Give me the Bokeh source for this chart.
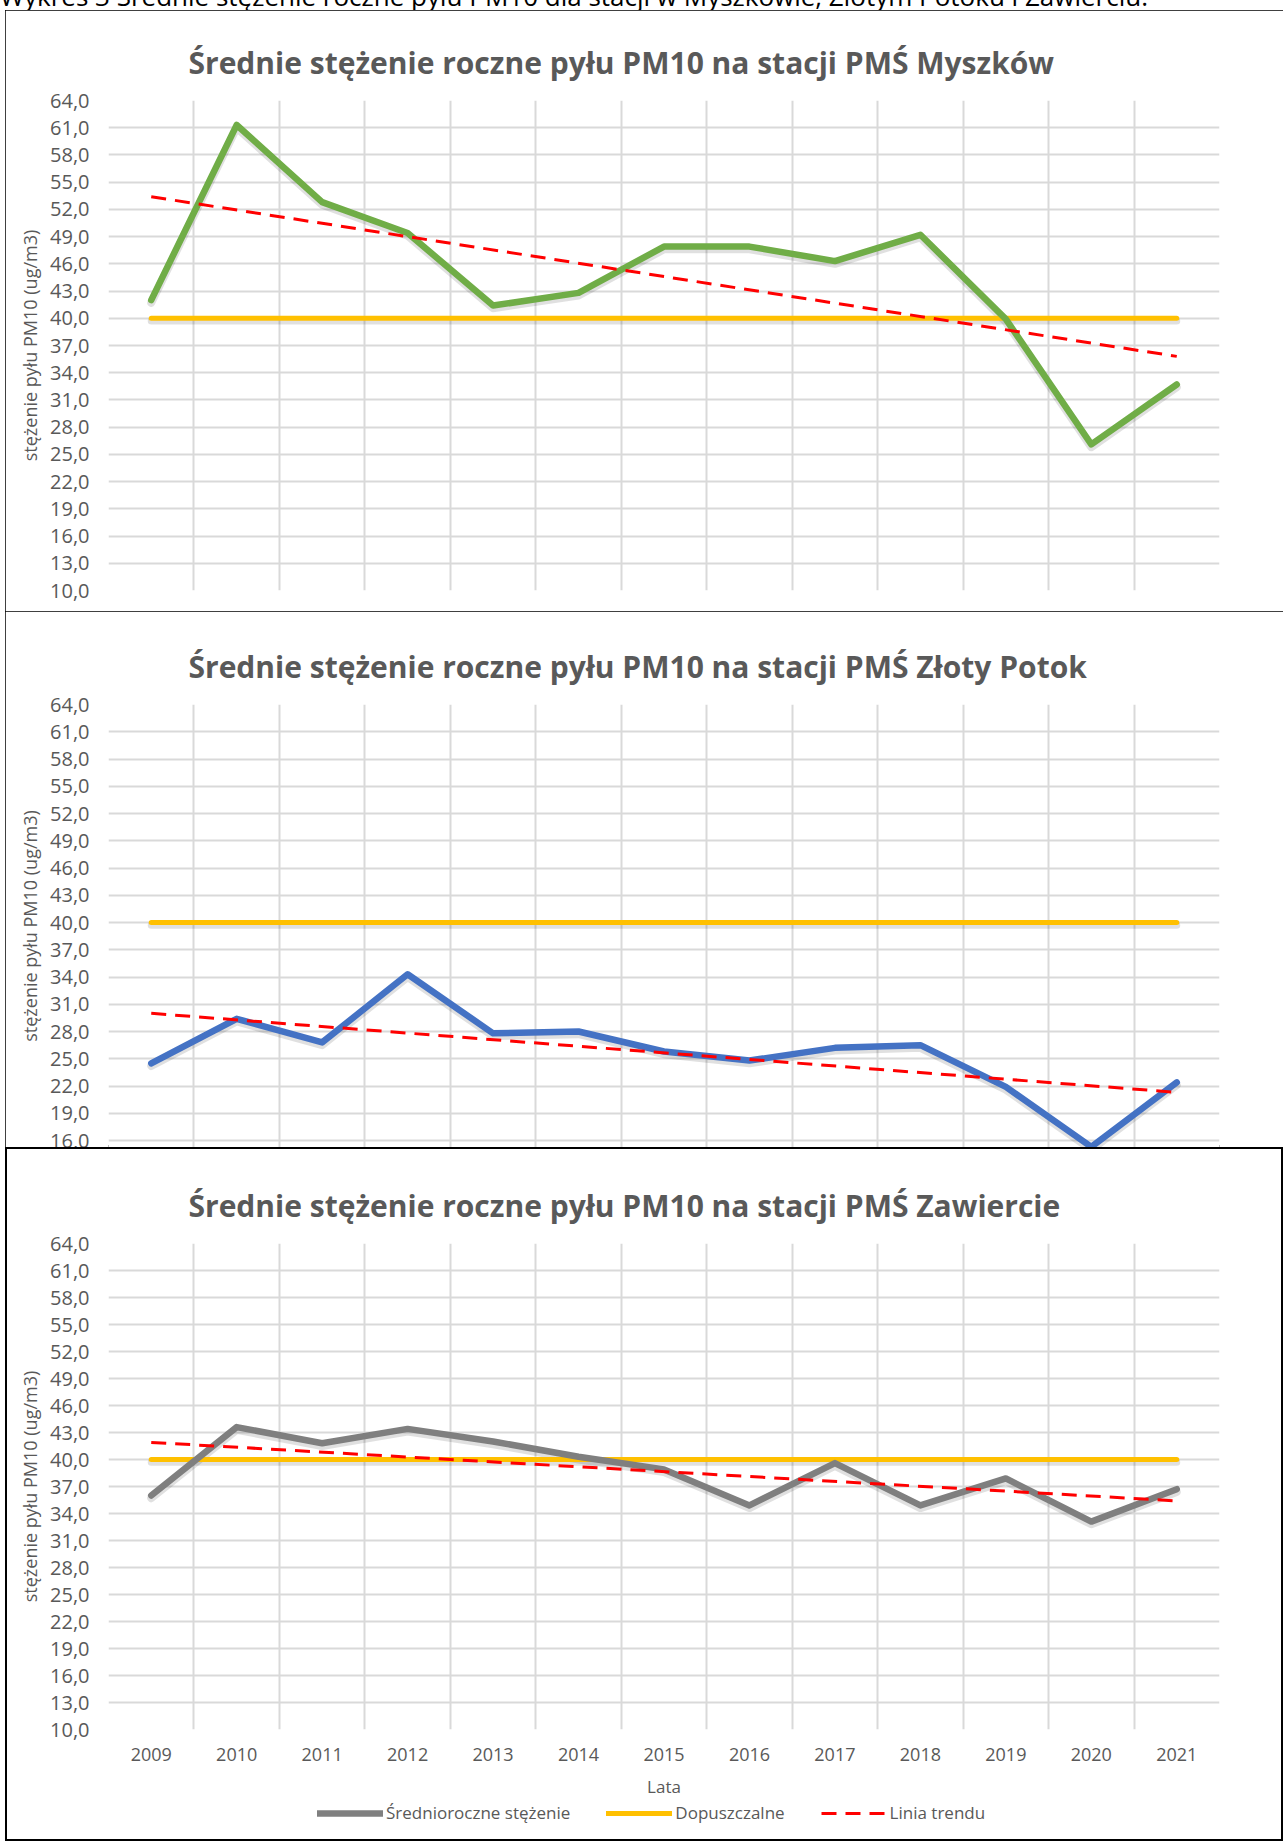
from bokeh.plotting import figure
from bokeh.layouts import column
from bokeh.models import (Range1d, FixedTicker, CustomJSTickFormatter, Legend,
                          LegendItem, ColumnDataSource, Title, Div)
from bokeh.transform import dodge
from bokeh.embed import file_html
from bokeh.resources import INLINE

# ---------------- data ----------------
years = [2009, 2010, 2011, 2012, 2013, 2014, 2015, 2016, 2017, 2018, 2019, 2020, 2021]
myszkow = [42.0, 61.3, 52.8, 49.4, 41.4, 42.8, 47.9, 47.9, 46.3, 49.2, 39.9, 26.1, 32.7]
zloty_potok = [24.5, 29.4, 26.8, 34.3, 27.8, 28.0, 25.8, 24.8, 26.2, 26.5, 21.9, 15.3, 22.4]
zawiercie = [36.0, 43.6, 41.8, 43.4, 42.0, 40.3, 38.9, 34.9, 39.6, 34.9, 37.9, 33.1, 36.7]
limit = [40.0, 40.0, 40.0, 40.0, 40.0, 40.0, 40.0, 40.0, 40.0, 40.0, 40.0, 40.0, 40.0]
trend_years = [2009, 2021]
myszkow_trend = [53.4, 35.8]
zloty_potok_trend = [30.0, 21.3]
zawiercie_trend = [41.9, 35.4]
y_ticks = [10, 13, 16, 19, 22, 25, 28, 31, 34, 37, 40, 43, 46, 49, 52, 55, 58, 61, 64]
grid_x = [2009.5, 2010.5, 2011.5, 2012.5, 2013.5, 2014.5, 2015.5, 2016.5, 2017.5,
          2018.5, 2019.5, 2020.5, 2021.5]
header = ("Wykres 3 Średnie stężenie roczne pyłu PM10 dla stacji w Myszkowie, "
          "Złotym Potoku i Zawierciu.")
titles = ["Średnie stężenie roczne pyłu PM10 na stacji PMŚ Myszków",
          "Średnie stężenie roczne pyłu PM10 na stacji PMŚ Złoty Potok",
          "Średnie stężenie roczne pyłu PM10 na stacji PMŚ Zawiercie"]
y_label = "stężenie pyłu PM10 (ug/m3)"
x_label = "Lata"
legend_labels = ["Średnioroczne stężenie", "Dopuszczalne", "Linia trendu"]

FONT = "Open Sans"
TXT = "#595959"
GRID = "#D9D9D9"
W = 1278
BORDER = {"outline": "2px solid black", "outline-offset": "-2px"}

# document caption above the charts, cut off by the top edge as in the source
hdr = Div(text=('<div style="position:relative; top:-17px; white-space:nowrap; '
                "font-family:'Open Sans'; font-size:26px; line-height:26px; "
                'color:#000000;">' + header + '</div>'),
          width=1285, height=10, margin=0,
          styles={"overflow": "hidden"})


def add_lines(p, values, color, trend):
    src = ColumnDataSource(data=dict(x=years, y=values, lim=limit))
    r_lim = p.line("x", "lim", source=src, line_color="#FFC000", line_width=5,
                   line_cap="round")
    r_val = p.line("x", "y", source=src, line_color=color, line_width=6.5,
                   line_join="round", line_cap="round")
    r_tr = p.line(trend_years, trend, line_color="#FF0000", line_width=3,
                  line_dash="15 9")
    return src, r_val, r_lim, r_tr


def make_panel(title, values, color, trend, height, y_start, top, bottom, last):
    p = figure(width=W, height=height, output_backend="svg", toolbar_location=None,
               x_range=Range1d(2008.5, 2021.5), y_range=Range1d(y_start, 64),
               min_border_left=103, min_border_right=64, min_border_top=top,
               min_border_bottom=bottom, outline_line_color=None, title=None)
    if last:
        # transparent so the surrounding block's border stays visible
        p.background_fill_color = None
        p.border_fill_color = None
    else:
        p.background_fill_color = "white"
        p.border_fill_color = "white"
        p.margin = (0, 0, 0, 5)
        p.styles = BORDER
    p.add_layout(Title(text=title, align="left", offset=80, text_font=FONT,
                       text_font_size="30px", text_font_style="bold",
                       text_color=TXT, standoff=36), "above")

    p.xgrid.ticker = FixedTicker(ticks=grid_x)
    p.ygrid.ticker = FixedTicker(ticks=y_ticks)
    for g in (p.xgrid[0], p.ygrid[0]):
        g.grid_line_color = GRID
        g.grid_line_width = 2

    ya = p.yaxis[0]
    ya.ticker = FixedTicker(ticks=y_ticks)
    ya.formatter = CustomJSTickFormatter(code="return tick.toFixed(1).replace('.', ',');")
    ya.axis_line_color = None
    ya.major_tick_line_color = None
    ya.minor_tick_line_color = None
    ya.major_label_standoff = 13
    ya.major_label_text_font = FONT
    ya.major_label_text_font_size = "20px"
    ya.major_label_text_color = TXT
    ya.axis_label = y_label
    ya.axis_label_text_font = FONT
    ya.axis_label_text_font_size = "18px"
    ya.axis_label_text_font_style = "normal"
    ya.axis_label_text_color = TXT
    ya.axis_label_standoff = 5

    xa = p.xaxis[0]
    if last:
        xa.ticker = FixedTicker(ticks=years)
        xa.formatter = CustomJSTickFormatter(code="return tick.toFixed(0);")
        xa.axis_line_color = None
        xa.major_tick_line_color = None
        xa.minor_tick_line_color = None
        xa.major_label_standoff = 12
        xa.major_label_text_font = FONT
        xa.major_label_text_font_size = "18px"
        xa.major_label_text_color = TXT
        xa.axis_label = x_label
        xa.axis_label_text_font = FONT
        xa.axis_label_text_font_size = "17px"
        xa.axis_label_text_font_style = "normal"
        xa.axis_label_text_color = TXT
        xa.axis_label_standoff = 11
    else:
        xa.visible = False

    src = ColumnDataSource(data=dict(x=years, y=values, lim=limit))
    # soft drop shadows under the solid lines
    p.line("x", dodge("lim", -0.3), source=src, line_color="black", line_alpha=0.12,
           line_width=7, line_cap="round")
    p.line("x", dodge("y", -0.3), source=src, line_color="black", line_alpha=0.12,
           line_width=8, line_join="round", line_cap="round")
    add_lines(p, values, color, trend)
    return p


p1 = make_panel(titles[0], myszkow, "#70AD47", myszkow_trend, 601, 10, 90, 21, False)
p2 = make_panel(titles[1], zloty_potok, "#4472C4", zloty_potok_trend, 536, 15.23, 93, 0, False)
p3 = make_panel(titles[2], zawiercie, "#7F7F7F", zawiercie_trend, 653, 10, 96, 70, True)

# legend strip under the third chart (its lines lie outside the visible range)
lg = figure(width=W, height=41, output_backend="svg", toolbar_location=None,
            x_range=Range1d(2008.5, 2021.5), y_range=Range1d(100, 101), min_border=0,
            outline_line_color=None, background_fill_color=None,
            border_fill_color=None)
lg.axis.visible = False
lg.grid.visible = False
_, l_val, l_lim, l_tr = add_lines(lg, zawiercie, "#7F7F7F", zawiercie_trend)
leg = Legend(items=[LegendItem(label=legend_labels[0], renderers=[l_val]),
                    LegendItem(label=legend_labels[1], renderers=[l_lim]),
                    LegendItem(label=legend_labels[2], renderers=[l_tr])],
             orientation="horizontal", location=(209, 17),
             label_text_font=FONT, label_text_font_size="17px",
             label_text_color=TXT, glyph_width=66, glyph_height=20,
             label_standoff=3, spacing=36, padding=0, margin=0,
             border_line_color=None, background_fill_alpha=0)
lg.add_layout(leg)

bottom_block = column(p3, lg, spacing=0)
bottom_block.margin = (0, 0, 0, 5)
bottom_block.styles = BORDER

layout = column(hdr, p1, p2, bottom_block, spacing=0)
open("out.html", "w").write(file_html(layout, INLINE))
